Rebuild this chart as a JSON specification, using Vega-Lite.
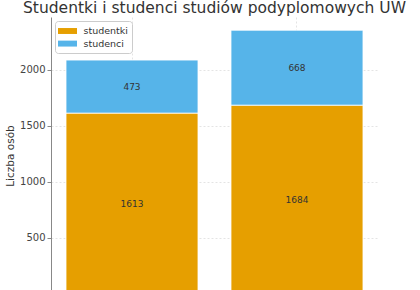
{
  "$schema": "https://vega.github.io/schema/vega-lite/v6.json",
  "autosize": "none",
  "width": 327,
  "height": 277,
  "padding": {"left": 51, "top": 17, "right": 42, "bottom": 0},
  "background": "white",
  "config": {
    "font": "DejaVu Sans",
    "view": {"stroke": null}
  },
  "title": {
    "text": "Studentki i studenci studiów podyplomowych UW",
    "fontSize": 15.5,
    "fontWeight": "normal",
    "color": "#333333",
    "anchor": "middle",
    "offset": 4,
    "dy": 3,
    "font": "DejaVu Sans"
  },
  "data": {
    "values": [
      {"rok": "2022/2023", "plec": "studentki", "liczba": 1613, "kolejnosc": 0},
      {"rok": "2022/2023", "plec": "studenci", "liczba": 473, "kolejnosc": 1},
      {"rok": "2023/2024", "plec": "studentki", "liczba": 1684, "kolejnosc": 0},
      {"rok": "2023/2024", "plec": "studenci", "liczba": 668, "kolejnosc": 1}
    ]
  },
  "encoding": {
    "x": {
      "field": "rok",
      "type": "nominal",
      "sort": null,
      "scale": {"paddingInner": 0.2, "paddingOuter": 0.091},
      "axis": {
        "title": null,
        "labels": false,
        "labelAngle": 0,
        "grid": true,
        "gridColor": "#dddddd",
        "gridDash": [2, 2],
        "gridWidth": 0.8,
        "domainColor": "#888888",
        "tickColor": "#888888"
      }
    }
  },
  "layer": [
    {
      "mark": {"type": "bar", "stroke": "white", "strokeWidth": 0.8},
      "encoding": {
        "y": {
          "field": "liczba",
          "type": "quantitative",
          "stack": "zero",
          "scale": {"domain": [0, 2470], "nice": false},
          "axis": {
            "title": "Liczba osób",
            "titleFontSize": 10.5,
            "titleFontWeight": "normal",
            "titleColor": "#333333",
            "titlePadding": 4,
            "format": "d",
            "values": [0, 500, 1000, 1500, 2000],
            "labelFontSize": 10,
            "labelColor": "#444444",
            "labelPadding": 2,
            "tickSize": 4,
            "tickColor": "#888888",
            "domainColor": "#888888",
            "grid": true,
            "gridColor": "#dddddd",
            "gridDash": [2, 2],
            "gridWidth": 0.8
          }
        },
        "color": {
          "field": "plec",
          "type": "nominal",
          "scale": {"domain": ["studentki", "studenci"], "range": ["#E69F00", "#56B4E9"]},
          "legend": {
            "title": null,
            "orient": "none",
            "legendX": 4,
            "legendY": 4,
            "fillColor": "white",
            "strokeColor": "#cccccc",
            "cornerRadius": 3,
            "padding": 4,
            "symbolType": "M-1.6,-0.5H1.6V0.5H-1.6Z",
            "symbolSize": 141,
            "symbolOffset": 2.5,
            "symbolStrokeWidth": 0,
            "labelFontSize": 9.5,
            "labelColor": "#333333",
            "rowPadding": 1.6,
            "labelOffset": 10
          }
        },
        "order": {"field": "kolejnosc", "type": "quantitative"}
      }
    },
    {
      "transform": [
        {"stack": "liczba", "groupby": ["rok"], "sort": [{"field": "kolejnosc", "order": "ascending"}], "as": ["y0", "y1"]},
        {"calculate": "(datum.y0 + datum.y1) / 2", "as": "srodek"}
      ],
      "mark": {"type": "text", "fontSize": 9, "color": "#333333", "baseline": "middle"},
      "encoding": {
        "y": {"field": "srodek", "type": "quantitative"},
        "text": {"field": "liczba", "type": "quantitative"}
      }
    }
  ]
}
